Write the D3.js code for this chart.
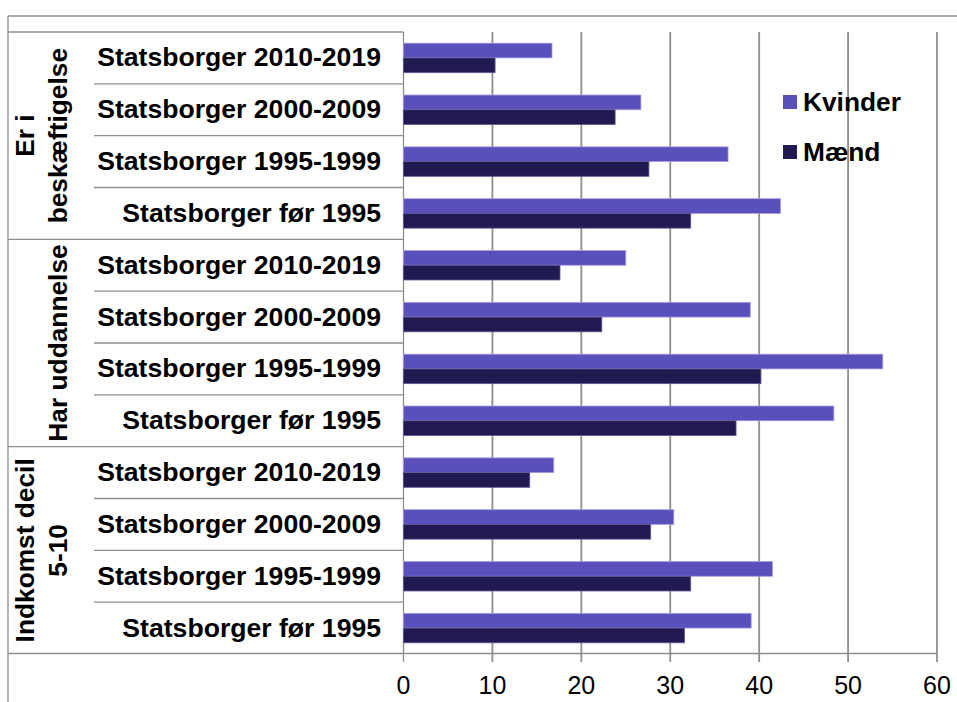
<!DOCTYPE html>
<html>
<head>
<meta charset="utf-8">
<script src="https://cdn.jsdelivr.net/npm/d3@7"></script>
<style>
  body { margin: 0; background: #fff; }
  svg { display: block; font-family: "Liberation Sans", Arial, sans-serif; }
</style>
</head>
<body>
<svg width="957" height="702"></svg>
<script>
const GROUPS = [
    { lines: ["Er i", "beskæftigelse"] },
    { lines: ["Har uddannelse"] },
    { lines: ["Indkomst decil", "5-10"] },
];

const CATEGORIES = ["Statsborger 2010-2019", "Statsborger 2000-2009", "Statsborger 1995-1999", "Statsborger før 1995"];

const SERIES = ["Kvinder", "Mænd"];

// values per group, top to bottom
const KVINDER = [16.7, 26.7, 36.5, 42.4,  25.0, 39.0, 53.9, 48.4,  16.9, 30.4, 41.5, 39.1];
const MAEND   = [10.3, 23.8, 27.6, 32.3,  17.6, 22.3, 40.2, 37.4,  14.2, 27.8, 32.3, 31.6];

const X_TICKS = [0, 10, 20, 30, 40, 50, 60];

const COLORS = { "Kvinder": "#5a50bc", "Mænd": "#201a50" };
const EDGES = { "Kvinder": "#a39de0", "Mænd": "#5d5796" };
const LINE = "#8e8e8e";

const rows = [];
GROUPS.forEach((g, gi) => {
    CATEGORIES.forEach((c, ci) => {
        const i = gi * CATEGORIES.length + ci;
        rows.push({ id: gi + "-" + ci, group: gi, label: c, Kvinder: KVINDER[i], "Mænd": MAEND[i] });
    });
});

const svg = d3.select('svg');

const xScale = d3.scaleLinear()
    .domain([0, 60])
    .range([403.5, 937]);

const yScale = d3.scaleBand()
    .domain(rows.map(d => d.id))
    .range([32, 654])
    .padding(0);

const barScale = d3.scaleBand()
    .domain(SERIES)
    .range([0, yScale.bandwidth()])
    .paddingInner(0)
    .paddingOuter(0.76);

const groupTop = gi => yScale(rows[gi * CATEGORIES.length].id);
const groupBottom = gi => yScale(rows[(gi + 1) * CATEGORIES.length - 1].id) + yScale.step();

// frame
const frame = svg.append('g').attr('stroke', LINE).attr('stroke-width', 1.3);
frame.append('line').attr('x1', 8).attr('x2', 957).attr('y1', 16).attr('y2', 16);
frame.append('line').attr('x1', 8).attr('x2', 8).attr('y1', 16).attr('y2', 702);
frame.append('line').attr('x1', 8).attr('x2', xScale(0)).attr('y1', 32).attr('y2', 32);

// vertical gridlines + ticks
svg.append('g')
    .selectAll('line')
    .data(X_TICKS)
    .enter()
    .append('line')
    .attr('x1', d => xScale(d))
    .attr('x2', d => xScale(d))
    .attr('y1', 32)
    .attr('y2', 662)
    .attr('stroke', LINE)
    .attr('stroke-width', d => d === 0 ? 1.3 : 1.8);

// row separators
svg.append('g')
    .selectAll('line')
    .data(rows.filter((d, i) => i % CATEGORIES.length !== 0))
    .enter()
    .append('line')
    .attr('x1', 94)
    .attr('x2', xScale(0))
    .attr('y1', d => yScale(d.id))
    .attr('y2', d => yScale(d.id))
    .attr('stroke', LINE)
    .attr('stroke-width', 1.3);

// group separators
svg.append('g')
    .selectAll('line')
    .data(GROUPS.map((g, gi) => gi).filter(gi => gi > 0))
    .enter()
    .append('line')
    .attr('x1', 8)
    .attr('x2', xScale(0))
    .attr('y1', gi => groupTop(gi))
    .attr('y2', gi => groupTop(gi))
    .attr('stroke', LINE)
    .attr('stroke-width', 1.3);

// bottom axis line
svg.append('line')
    .attr('x1', 8)
    .attr('x2', xScale(60))
    .attr('y1', 653.5)
    .attr('y2', 653.5)
    .attr('stroke', LINE)
    .attr('stroke-width', 1.5);

// bars
const rowGroups = svg.append('g')
    .selectAll('g')
    .data(rows)
    .enter()
    .append('g')
    .attr('transform', d => `translate(0,${yScale(d.id)})`);

rowGroups.selectAll('rect')
    .data(d => SERIES.map(s => ({ series: s, value: d[s] })))
    .enter()
    .append('rect')
    .attr('x', xScale(0))
    .attr('y', d => barScale(d.series))
    .attr('width', d => xScale(d.value) - xScale(0))
    .attr('height', barScale.bandwidth())
    .attr('fill', d => COLORS[d.series])
    .attr('stroke', d => EDGES[d.series])
    .attr('stroke-width', 0.8);

// category labels
svg.append('g')
    .selectAll('text')
    .data(rows)
    .enter()
    .append('text')
    .attr('x', 381)
    .attr('y', d => yScale(d.id) + yScale.step() / 2)
    .attr('dy', '0.32em')
    .attr('text-anchor', 'end')
    .attr('font-size', 26.6)
    .attr('font-weight', 'bold')
    .attr('fill', '#000')
    .text(d => d.label);

// group labels (rotated)
GROUPS.forEach((g, gi) => {
    const cy = (groupTop(gi) + groupBottom(gi)) / 2;
    const xs = g.lines.length === 2 ? [33.5, 66.5] : [66.5];
    g.lines.forEach((line, li) => {
        svg.append('text')
            .attr('transform', `translate(${xs[li]},${cy}) rotate(-90)`)
            .attr('text-anchor', 'middle')
            .attr('font-size', 26.3)
            .attr('font-weight', 'bold')
            .attr('fill', '#000')
            .text(line);
    });
});

// x tick labels
svg.append('g')
    .selectAll('text')
    .data(X_TICKS)
    .enter()
    .append('text')
    .attr('x', d => xScale(d))
    .attr('y', 694)
    .attr('text-anchor', 'middle')
    .attr('font-size', 25)
    .attr('fill', '#000')
    .text(d => d);

// legend
const legend = svg.append('g')
    .selectAll('g')
    .data(SERIES)
    .enter()
    .append('g')
    .attr('transform', (d, i) => `translate(783,${95 + i * 50})`);

legend.append('rect')
    .attr('width', 14)
    .attr('height', 14)
    .attr('fill', d => COLORS[d]);

legend.append('text')
    .attr('x', 20)
    .attr('y', 15.5)
    .attr('font-size', 26.3)
    .attr('font-weight', 'bold')
    .attr('fill', '#000')
    .text(d => d);
</script>
</body>
</html>
